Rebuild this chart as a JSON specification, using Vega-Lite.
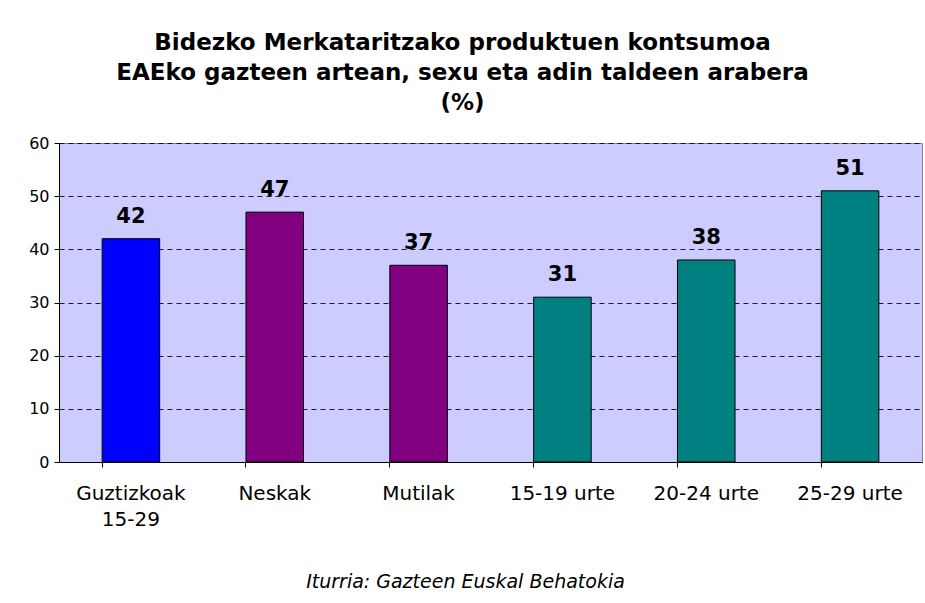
{
  "$schema": "https://vega.github.io/schema/vega-lite/v6.json",
  "width": 863,
  "height": 319,
  "autosize": "none",
  "padding": {"left": 59, "top": 143, "right": 3, "bottom": 141},
  "background": "white",
  "title": {
    "text": ["Bidezko Merkataritzako produktuen kontsumoa", "EAEko gazteen artean, sexu eta adin taldeen arabera", "(%)"],
    "fontSize": 23,
    "fontWeight": "bold",
    "font": "DejaVu Sans",
    "color": "black",
    "anchor": "middle",
    "dx": -28,
    "offset": 20,
    "lineHeight": 30
  },
  "data": {
    "values": [
      {"cat": "Guztizkoak 15-29", "value": 42, "grp": "Guztira"},
      {"cat": "Neskak", "value": 47, "grp": "Sexua"},
      {"cat": "Mutilak", "value": 37, "grp": "Sexua"},
      {"cat": "15-19 urte", "value": 31, "grp": "Adina"},
      {"cat": "20-24 urte", "value": 38, "grp": "Adina"},
      {"cat": "25-29 urte", "value": 51, "grp": "Adina"}
    ]
  },
  "encoding": {
    "x": {
      "field": "cat",
      "type": "nominal",
      "sort": null,
      "scale": {"paddingInner": 0.6, "paddingOuter": 0.3},
      "axis": {
        "title": "Iturria: Gazteen Euskal Behatokia",
        "titleFontStyle": "italic",
        "titleFontWeight": "normal",
        "titleFontSize": 19,
        "titleColor": "black",
        "titleX": 406,
        "titleY": 119,
        "titleAlign": "center",
        "titleBaseline": "middle",
        "labelAngle": 0,
        "labelFontSize": 20,
        "labelColor": "black",
        "labelPadding": 16,
        "labelLineHeight": 26,
        "labelExpr": "datum.value == 'Guztizkoak 15-29' ? ['Guztizkoak', '15-29'] : datum.value",
        "bandPosition": 0,
        "tickSize": 5,
        "tickColor": "black",
        "domainColor": "black",
        "grid": false
      }
    },
    "y": {
      "field": "value",
      "type": "quantitative",
      "scale": {"domain": [0, 60]},
      "axis": {
        "title": null,
        "values": [0, 10, 20, 30, 40, 50, 60],
        "labelFontSize": 16,
        "labelColor": "black",
        "labelPadding": 5,
        "tickSize": 5,
        "tickColor": "black",
        "domainColor": "black",
        "grid": true,
        "gridColor": "black",
        "gridDash": [5, 4],
        "gridOpacity": 0.85
      }
    }
  },
  "layer": [
    {
      "mark": {"type": "bar", "stroke": "black", "strokeWidth": 1},
      "encoding": {
        "color": {
          "field": "grp",
          "type": "nominal",
          "scale": {"domain": ["Guztira", "Sexua", "Adina"], "range": ["#0000ff", "#800080", "#008080"]},
          "legend": null
        }
      }
    },
    {
      "mark": {"type": "text", "baseline": "bottom", "dy": -12, "fontSize": 21, "fontWeight": "bold", "color": "black"},
      "encoding": {"text": {"field": "value", "type": "quantitative"}}
    }
  ],
  "config": {
    "font": "DejaVu Sans",
    "view": {"fill": "#ccccff", "stroke": "#808080", "strokeWidth": 1},
    "axis": {"labelFont": "DejaVu Sans", "titleFont": "DejaVu Sans"}
  }
}
